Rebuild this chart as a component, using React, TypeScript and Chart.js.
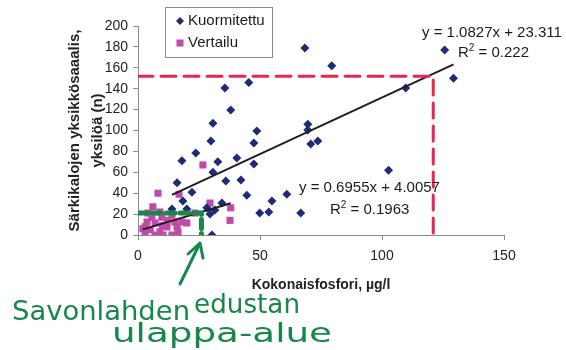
import React, { useEffect, useRef } from 'react';
import { Chart, registerables } from 'chart.js';

Chart.register(...registerables);

// ---- data ----
const seriesNames = ['Kuormitettu', 'Vertailu'];

const kuormitettuX = [13.9, 16, 18, 18.4, 20, 22.1, 23.7, 28.2, 29.5, 29.9, 30.3, 30.7, 30.7, 31.5, 32.7, 34.4, 35.6, 36, 38, 40.5, 42.2, 44.6, 45.4, 47.5, 47.5, 48.7, 49.9, 53.6, 54.9, 61, 66.7, 68.4, 69.6, 69.6, 70.8, 73.7, 79.4, 102.7, 109.7, 125.7, 129.3];
const kuormitettuY = [25, 50, 71, 32.5, 25, 41, 78.5, 26, 20, 90, 0, 107, 60, 24, 70, 30.6, 140.7, 51.7, 119.6, 73.7, 52.6, 38, 146, 68, 88, 99.5, 21, 22, 32.5, 39, 21, 179, 106, 100.5, 87, 90, 162, 62, 140.7, 177, 150];

const vertailuX = [2, 2.9, 3, 3.7, 4.1, 5, 5.7, 6.1, 7, 7, 8.2, 9, 9, 9.8, 10, 10.2, 11.9, 12, 13.9, 13.9, 15.1, 16, 16.4, 16.8, 18, 20, 23.3, 26.6, 29.5, 37.7, 38];
const vertailuY = [6, 2, 8, 12.4, 21, 5, 17, 27, 0, 11.5, 40, 3, 22, 17, 9, 0, 7.7, 14, 0, 19, 12.4, 7.7, 3, 39, 12.4, 11.5, 21, 67, 30.6, 14, 26];

const trendSlopes = [1.0827, 0.6955];
const trendIntercepts = [23.311, 4.0057];
const trendLabels = ['y = 1.0827x + 23.311', 'y = 0.6955x + 4.0057'];
const r2Values = ['0.222', '0.1963'];

const xTickValues = [0, 50, 100, 150];
const yTickValues = [0, 20, 40, 60, 80, 100, 120, 140, 160, 180, 200];

const xTitle = 'Kokonaisfosfori, µg/l';
const yTitle = ['Särkikalojen yksikkösaaalis,', 'yksilöä (n)'];

// hand-drawn ink annotations
const redGuideX = [0, 121, 121];
const redGuideY = [152, 152, 0];
const greenGuideX = [0, 26, 26];
const greenGuideY = [21, 21, 0];
const noteWords = ['Savonlahden', 'edustan', 'ulappa-alue'];

const FONT = '"Liberation Sans", Arial, sans-serif';
const NAVY = '#1f2a78';
const MAGENTA = '#c04aa8';
const RED = '#e8274f';
const GREEN = '#17874a';

function pts(xs: number[], ys: number[]) {
  return xs.map((x, i) => ({ x, y: ys[i] }));
}

function trend(xs: number[], k: number) {
  const lo = Math.min(...xs);
  const hi = Math.max(...xs);
  return [
    { x: lo, y: trendSlopes[k] * lo + trendIntercepts[k] },
    { x: hi, y: trendSlopes[k] * hi + trendIntercepts[k] },
  ];
}

const overlay = {
  id: 'overlay',
  afterDraw(chart: any) {
    const ctx: CanvasRenderingContext2D = chart.ctx;
    ctx.save();
    // legend
    ctx.fillStyle = '#ffffff';
    ctx.fillRect(165, 7, 107, 50);
    ctx.strokeStyle = '#8c8c8c';
    ctx.lineWidth = 1;
    ctx.strokeRect(165.5, 7.5, 107, 50);
    ctx.fillStyle = NAVY;
    ctx.beginPath();
    ctx.moveTo(176, 21);
    ctx.lineTo(180, 17);
    ctx.lineTo(184, 21);
    ctx.lineTo(180, 25);
    ctx.closePath();
    ctx.fill();
    ctx.fillStyle = MAGENTA;
    ctx.fillRect(176.5, 39.5, 7, 7);
    ctx.fillStyle = '#1a1a1a';
    ctx.font = `15px ${FONT}`;
    ctx.textBaseline = 'middle';
    ctx.textAlign = 'left';
    ctx.fillText(seriesNames[0], 188, 21);
    ctx.fillText(seriesNames[1], 188, 43);

    // equations
    const eq = (t: string, r2: string, x1: number, y1: number, x2: number, y2: number) => {
      ctx.font = `15px ${FONT}`;
      ctx.fillText(t, x1, y1);
      ctx.fillText('R', x2, y2);
      const w = ctx.measureText('R').width;
      ctx.font = `10px ${FONT}`;
      ctx.fillText('2', x2 + w, y2 - 5);
      const w2 = ctx.measureText('2').width;
      ctx.font = `15px ${FONT}`;
      ctx.fillText(' = ' + r2, x2 + w + w2, y2);
    };
    eq(trendLabels[0], r2Values[0], 422, 33, 458, 53);
    eq(trendLabels[1], r2Values[1], 299, 188, 330, 210);

    // green arrow
    ctx.strokeStyle = GREEN;
    ctx.lineWidth = 3;
    ctx.lineCap = 'round';
    ctx.lineJoin = 'round';
    ctx.beginPath();
    ctx.moveTo(180, 284);
    ctx.lineTo(200, 243);
    ctx.moveTo(188, 254);
    ctx.lineTo(200, 243);
    ctx.lineTo(203, 258);
    ctx.stroke();

    // handwritten note
    ctx.fillStyle = GREEN;
    ctx.textBaseline = 'alphabetic';
    const fit = (t: string, l: number, r: number, base: number, size: number) => {
      ctx.font = `${size}px "DejaVu Sans", sans-serif`;
      const w = ctx.measureText(t).width;
      ctx.save();
      ctx.translate(l, base);
      ctx.scale((r - l) / w, 1);
      ctx.fillText(t, 0, 0);
      ctx.restore();
    };
    fit(noteWords[0], 12, 190, 320, 27);
    fit(noteWords[1], 194, 300, 313, 27);
    fit(noteWords[2], 112, 332, 342, 27);
    ctx.restore();
  },
};

export default function App() {
  const ref = useRef<HTMLCanvasElement | null>(null);
  useEffect(() => {
    if (!ref.current) return;
    const chart = new Chart(ref.current, {
      type: 'scatter',
      data: {
        datasets: [
          {
            label: 'red',
            data: pts(redGuideX, redGuideY),
            showLine: true,
            borderColor: RED,
            borderWidth: 3,
            borderDash: [15, 8],
            borderCapStyle: 'round',
            pointRadius: 0,
            order: 0,
          } as any,
          {
            label: 'green',
            data: pts(greenGuideX, greenGuideY),
            showLine: true,
            borderColor: GREEN,
            borderWidth: 5,
            borderDash: [9, 5],
            borderCapStyle: 'round',
            pointRadius: 0,
            order: 0,
          },
          {
            label: 't1',
            data: trend(kuormitettuX, 0),
            showLine: true,
            borderColor: '#1e1e1e',
            borderWidth: 2,
            pointRadius: 0,
            order: 1,
          },
          {
            label: 't2',
            data: trend(vertailuX, 1),
            showLine: true,
            borderColor: '#1e1e1e',
            borderWidth: 2,
            pointRadius: 0,
            order: 1,
          },
          {
            label: seriesNames[0],
            data: pts(kuormitettuX, kuormitettuY),
            pointStyle: 'rectRot',
            pointRadius: 4.5,
            backgroundColor: NAVY,
            borderWidth: 0,
            order: 2,
          },
          {
            label: seriesNames[1],
            data: pts(vertailuX, vertailuY),
            pointStyle: 'rect',
            pointRadius: 5,
            backgroundColor: MAGENTA,
            borderWidth: 0,
            order: 3,
          },
        ],
      },
      options: {
        animation: false,
        responsive: false,
        devicePixelRatio: 1,
        layout: { padding: { left: 0, top: 26, right: 62, bottom: 56 } },
        plugins: { legend: { display: false }, tooltip: { enabled: false } },
        scales: {
          x: {
            type: 'linear',
            min: 0,
            max: 150,
            afterBuildTicks: (s: any) => {
              s.ticks = xTickValues.map((v) => ({ value: v }));
            },
            afterFit: (s: any) => {
              s.height = 59;
            },
            ticks: { color: '#222', font: { family: FONT, size: 14 }, padding: 8 },
            grid: { drawOnChartArea: false, drawTicks: true, tickLength: 5, color: '#8a8a8a' },
            border: { display: true, color: '#8a8a8a' },
            title: {
              display: true,
              text: xTitle,
              color: '#222',
              font: { family: FONT, size: 14, weight: 'bold' },
              padding: { top: 0, bottom: 0 },
            },
          },
          y: {
            type: 'linear',
            min: 0,
            max: 200,
            afterBuildTicks: (s: any) => {
              s.ticks = yTickValues.map((v) => ({ value: v }));
            },
            afterFit: (s: any) => {
              s.width = 138;
            },
            ticks: { color: '#222', font: { family: FONT, size: 14 }, padding: 5 },
            grid: { drawOnChartArea: false, drawTicks: true, tickLength: 5, color: '#8a8a8a' },
            border: { display: true, color: '#8a8a8a' },
            title: {
              display: true,
              text: yTitle,
              color: '#222',
              font: { family: FONT, size: 15, weight: 'bold', lineHeight: 1.5 },
              padding: { top: 64, bottom: 0 },
            },
          },
        },
      },
      plugins: [overlay],
    });
    return () => chart.destroy();
  }, []);
  return (
    <div style={{ position: 'absolute', left: 0, top: 0, width: 566, height: 350, background: '#fff' }}>
      <canvas ref={ref} width={566} height={350} style={{ display: 'block' }} />
    </div>
  );
}
